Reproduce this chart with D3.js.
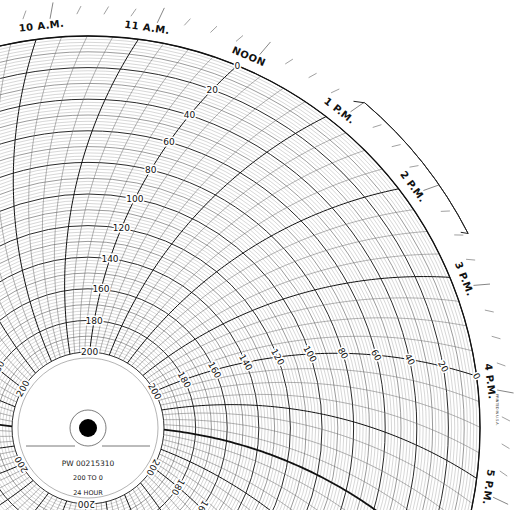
<!DOCTYPE html>
<html>
<head>
<meta charset="utf-8">
<script src="https://cdn.jsdelivr.net/npm/d3@7"></script>
<style>
  body { margin: 0; background: #fff; }
  svg { display: block; }
</style>
</head>
<body>
<div id="chart"></div>
<script>
// hour labels around the rim, index = hour of day
const hourLabels = ['MIDNIGHT', '1 A.M.', '2 A.M.', '3 A.M.', '4 A.M.', '5 A.M.', '6 A.M.', '7 A.M.',
  '8 A.M.', '9 A.M.', '10 A.M.', '11 A.M.', 'NOON', '1 P.M.', '2 P.M.', '3 P.M.', '4 P.M.', '5 P.M.',
  '6 P.M.', '7 P.M.', '8 P.M.', '9 P.M.', '10 P.M.', '11 P.M.'];
const valueLabels = [0, 20, 40, 60, 80, 100, 120, 140, 160, 180, 200];
const labelledHours = [0, 4, 8, 12, 16, 20];
const heavyHours = [6, 18];
const hubText = ['PW 00215310', '200 TO 0', '24 HOUR'];
const bracketHours = [13.2, 14.7];

const width = 521, height = 510;
const cx = 88, cy = 428;
const R = 392, rIn = 76, D = 447;

const r = d3.scaleLinear().domain([0, 200]).range([R, rIn]);
// outer-end angle (degrees, clockwise from up) of each time line
const ang = d3.scaleLinear().domain([12, 16]).range([22.4, 82.4]);
const phi0 = Math.acos(R / (2 * D)) * 180 / Math.PI;

// angle of a point at radius rr on the curved time line of hour t
function lineAngle(t, rr) {
  return ang(t) + phi0 - Math.acos(rr / (2 * D)) * 180 / Math.PI;
}
function pt(deg, rr) {
  const a = deg * Math.PI / 180;
  return [cx + rr * Math.sin(a), cy - rr * Math.cos(a)];
}

const svg = d3.select('#chart').append('svg')
  .attr('width', width).attr('height', height);
const g = svg.append('g');

// value circles
d3.range(0, 201, 2).forEach(v => {
  const major = v % 20 === 0, mid = v % 10 === 0;
  g.append('circle').attr('cx', cx).attr('cy', cy).attr('r', r(v))
    .attr('fill', 'none')
    .attr('stroke', major ? '#111' : mid ? '#555' : '#999')
    .attr('stroke-width', major ? 0.9 : mid ? 0.6 : 0.4);
});

// curved time lines every 15 min
const curve = d3.line();
const rs = d3.range(rIn, R + 0.1, 4).concat([R]);
d3.range(0, 24, 0.25).forEach(t => {
  const hour = t % 1 === 0;
  const heavy = hour && heavyHours.includes(t);
  g.append('path')
    .attr('d', curve(rs.map(rr => pt(lineAngle(t, rr), rr))))
    .attr('fill', 'none')
    .attr('stroke', hour ? '#111' : '#666')
    .attr('stroke-width', heavy ? 1.8 : hour ? 1 : 0.5);
});

// outer border
g.append('circle').attr('cx', cx).attr('cy', cy).attr('r', R)
  .attr('fill', 'none').attr('stroke', '#111').attr('stroke-width', 1.3);

// rim ticks
d3.range(0, 24, 0.25).forEach(t => {
  const a = ang(t) + 2.3;
  const hour = t % 1 === 0;
  const [x1, y1] = pt(a, hour ? 411 : 414);
  const [x2, y2] = pt(a + 0.6, hour ? 427 : 422);
  g.append('line').attr('x1', x1).attr('y1', y1).attr('x2', x2).attr('y2', y2)
    .attr('stroke', '#777').attr('stroke-width', hour ? 0.9 : 0.7);
});

// hour labels
hourLabels.forEach((lab, t) => {
  const a = ang(t) + 1;
  const [x, y] = pt(a, 405);
  g.append('text').attr('x', x).attr('y', y)
    .attr('transform', `rotate(${a},${x},${y})`)
    .attr('text-anchor', 'middle').attr('dominant-baseline', 'central')
    .attr('font-family', 'DejaVu Sans').attr('font-size', 10).attr('font-weight', 'bold')
    .attr('letter-spacing', 0.4)
    .attr('fill', '#111').text(lab);
});

// bracket on the rim
const arc = d3.arc()({innerRadius: 427, outerRadius: 427,
  startAngle: ang(bracketHours[0]) * Math.PI / 180, endAngle: ang(bracketHours[1]) * Math.PI / 180});
g.append('path').attr('d', arc).attr('transform', `translate(${cx},${cy})`)
  .attr('fill', 'none').attr('stroke', '#222').attr('stroke-width', 1);
bracketHours.forEach(t => {
  const [x1, y1] = pt(ang(t), 427), [x2, y2] = pt(ang(t) + (t < 14 ? -1.3 : -0.6), 421);
  g.append('line').attr('x1', x1).attr('y1', y1).attr('x2', x2).attr('y2', y2)
    .attr('stroke', '#222').attr('stroke-width', 1);
});

// value labels along every fourth hour line
labelledHours.forEach(t => {
  valueLabels.forEach(v => {
    const rr = r(v);
    const [x, y] = pt(lineAngle(t, rr), rr);
    const rot = ang(t) - ang(12);
    g.append('text').attr('x', x).attr('y', y)
      .attr('transform', `rotate(${rot},${x},${y})`)
      .attr('text-anchor', 'middle').attr('dominant-baseline', 'central')
      .attr('font-family', 'DejaVu Sans').attr('font-size', 9)
      .attr('fill', '#111').attr('stroke', '#fff').attr('stroke-width', 3)
      .attr('paint-order', 'stroke').text(v);
  });
});

// centre hub
g.append('circle').attr('cx', cx).attr('cy', cy).attr('r', 70)
  .attr('fill', '#fff').attr('stroke', '#666').attr('stroke-width', 0.5);
g.append('circle').attr('cx', cx).attr('cy', cy).attr('r', 18)
  .attr('fill', 'none').attr('stroke', '#444').attr('stroke-width', 0.7);
g.append('circle').attr('cx', cx).attr('cy', cy).attr('r', 9).attr('fill', '#000');
[[26, 75], [102, 150]].forEach(([a, b]) => {
  g.append('line').attr('x1', a).attr('x2', b).attr('y1', 446).attr('y2', 446)
    .attr('stroke', '#555').attr('stroke-width', 0.8);
});
hubText.forEach((s, i) => {
  g.append('text').attr('x', cx).attr('y', 463 + i * 15)
    .attr('text-anchor', 'middle').attr('dominant-baseline', 'central')
    .attr('font-family', 'DejaVu Sans').attr('font-size', i === 0 ? 7.5 : 6.5)
    .attr('fill', '#222').text(s);
});

// printer's mark
g.append('text').attr('x', 497).attr('y', 410)
  .attr('transform', 'rotate(90,497,410)')
  .attr('text-anchor', 'middle').attr('dominant-baseline', 'central')
  .attr('font-family', 'DejaVu Sans').attr('font-size', 3.5)
  .attr('fill', '#333').text('PRINTED IN U.S.A.');
</script>
</body>
</html>
